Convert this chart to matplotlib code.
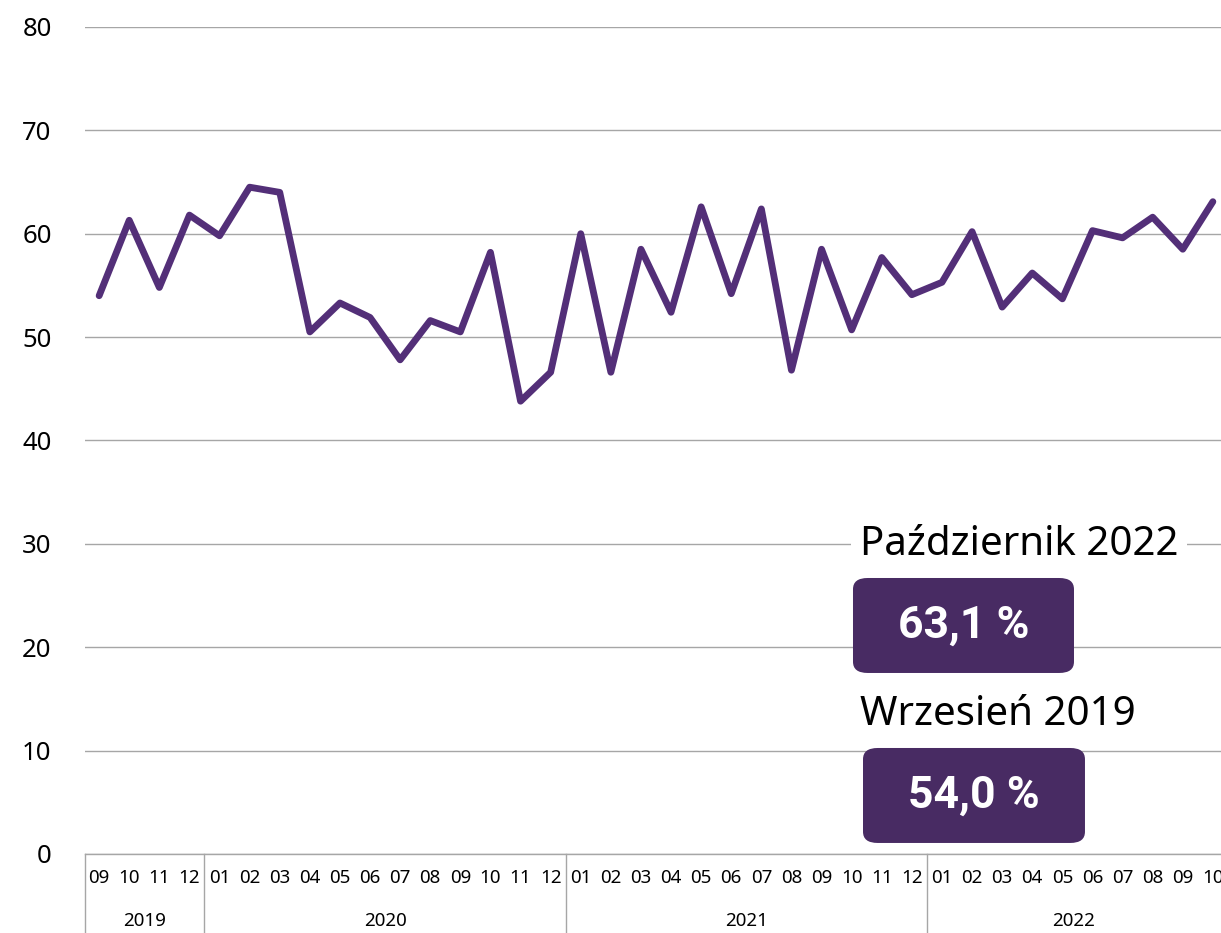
import matplotlib
matplotlib.use("Agg")
import matplotlib.pyplot as plt
import matplotlib.transforms as mtransforms
from matplotlib.patches import FancyBboxPatch

plt.rcParams['font.family'] = ['Noto Sans', 'DejaVu Sans']

# Data: monthly values Sep 2019 - Oct 2022
months = ["09", "10", "11", "12",
          "01", "02", "03", "04", "05", "06", "07", "08", "09", "10", "11", "12",
          "01", "02", "03", "04", "05", "06", "07", "08", "09", "10", "11", "12",
          "01", "02", "03", "04", "05", "06", "07", "08", "09", "10"]
values = [54.0, 61.3, 54.8, 61.8,
          59.8, 64.5, 64.0, 50.5, 53.3, 51.9, 47.8, 51.6, 50.5, 58.2, 43.8, 46.6,
          60.0, 46.6, 58.5, 52.4, 62.6, 54.2, 62.4, 46.8, 58.5, 50.7, 57.7, 54.1,
          55.3, 60.2, 52.9, 56.2, 53.7, 60.3, 59.6, 61.6, 58.5, 63.1]
years = ["2019", "2020", "2021", "2022"]
year_counts = [4, 12, 12, 10]

line_color = "#532f78"
box_color = "#482b63"
grid_color = "#a6a6a6"

fig = plt.figure(figsize=(12.21, 9.33), dpi=100)
ax = fig.add_axes([0.0696, 0.0847, 0.9304, 0.8864])

x = list(range(len(values)))
ax.plot(x, values, color=line_color, lw=4.9, solid_joinstyle='round',
        solid_capstyle='round', zorder=3, clip_on=False)

ax.set_ylim(0, 80)
ax.set_yticks(range(0, 81, 10))
ax.set_xlim(-0.47, len(values) - 1 + 0.27)
ax.set_xticks(x)
ax.set_xticklabels(months)
ax.tick_params(axis='x', length=0, pad=11, labelsize=13.5)
ax.tick_params(axis='y', length=0, pad=24, labelsize=18.5)

ax.grid(axis='y', color=grid_color, lw=1)
ax.set_axisbelow(True)
for s in ['top', 'right', 'left']:
    ax.spines[s].set_visible(False)
ax.spines['bottom'].set_color(grid_color)
ax.spines['bottom'].set_linewidth(1)

# year groups under the month labels
trans = mtransforms.blended_transform_factory(ax.transData, ax.transAxes)
lo, hi = ax.get_xlim()
start = 0
bounds = [lo]
for n in year_counts:
    start += n
    bounds.append(start - 0.5)
bounds[-1] = hi
for i, yr in enumerate(years):
    ax.text((bounds[i] + bounds[i + 1]) / 2, -0.081, yr, transform=trans,
            ha='center', va='center', fontsize=13.5)
for b in bounds[:-1]:
    ax.plot([b, b], [0, -0.1], transform=trans, color=grid_color, lw=1,
            clip_on=False)

# annotation labels and boxes
fig.text(0.704, 0.4155, "Październik 2022", fontsize=29, ha='left', va='center',
         bbox=dict(facecolor='white', edgecolor='none', pad=6), zorder=5)
fig.text(0.704, 0.2335, "Wrzesień 2019", fontsize=29, ha='left', va='center',
         bbox=dict(facecolor='white', edgecolor='none', pad=6), zorder=5)

for (x0, y0, w, h), label in [((0.6986, 0.2787, 0.181, 0.1018), f"{values[-1]:.1f} %".replace('.', ',')),
                              ((0.7068, 0.0965, 0.1818, 0.1018), f"{values[0]:.1f} %".replace('.', ','))]:
    box = FancyBboxPatch((x0, y0), w, h, boxstyle="round,pad=0,rounding_size=0.012",
                         transform=fig.transFigure, facecolor=box_color,
                         edgecolor='none', zorder=6)
    fig.patches.append(box)
    fig.text(x0 + w / 2, y0 + h / 2, label, fontsize=32, fontweight='bold',
             family=['Roboto', 'DejaVu Sans'],
             color='white', ha='center', va='center', zorder=7)

fig.savefig("out.png", dpi=100)
